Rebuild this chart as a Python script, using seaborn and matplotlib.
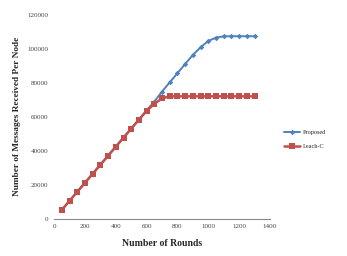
import matplotlib
matplotlib.use("Agg")
import matplotlib.pyplot as plt
import seaborn as sns
import pandas as pd

rounds = list(range(50, 1301, 50))
proposed = [5300, 10600, 15900, 21200, 26500, 31800, 37100, 42400, 47700, 53000,
            58300, 63800, 68900, 74800, 80200, 85600, 91000, 96300, 100800, 104500,
            106500, 107200, 107300, 107300, 107300, 107300]
leach_c = [5300, 10600, 15900, 21200, 26500, 31800, 37100, 42400, 47700, 53000,
           58300, 63400, 67600, 70800, 72000, 72000, 72000, 72000, 72000, 72000,
           72000, 72000, 72000, 72000, 72000, 72000]
series_names = ["Proposed", "Leach-C"]
x_ticks = list(range(0, 1401, 200))
y_ticks = list(range(0, 120001, 20000))

df = pd.DataFrame({
    "round": rounds * 2,
    "messages": proposed + leach_c,
    "scheme": [series_names[0]] * len(rounds) + [series_names[1]] * len(rounds),
})

sns.set_style("white")
plt.rcParams["font.family"] = ["Liberation Serif", "DejaVu Serif"]

fig = plt.figure(figsize=(3.47, 2.56), dpi=100)
ax = fig.add_axes([0.156, 0.145, 0.622, 0.798])

palette = {"Proposed": "#4F81BD", "Leach-C": "#C0504D"}
# blue first, red drawn over it where they overlap
sns.lineplot(data=df[df.scheme == "Proposed"], x="round", y="messages", color=palette["Proposed"],
             marker="D", markersize=2.8, markeredgewidth=0, linewidth=1.4, ax=ax, label="Proposed")
sns.lineplot(data=df[df.scheme == "Leach-C"], x="round", y="messages", color=palette["Leach-C"],
             marker="s", markersize=4.5, markeredgewidth=0, linewidth=1.8, ax=ax, label="Leach-C")

ax.set_xlim(0, 1400)
ax.set_ylim(0, 120000)
ax.set_xticks(x_ticks)
ax.set_yticks(y_ticks)
ax.tick_params(axis="both", labelsize=5, length=2, width=0.6, color="#888888",
               labelcolor="#444444", pad=2, direction="out")
for s in ["top", "right", "left"]:
    ax.spines[s].set_visible(False)
ax.spines["bottom"].set_color("#888888")
ax.spines["bottom"].set_linewidth(0.8)

ax.set_xlabel("Number of Rounds", fontsize=7, fontweight="bold", labelpad=7)
ax.set_ylabel("Number of Messages Received Per Node", fontsize=6.7, fontweight="bold", labelpad=5)

ax.legend(loc="center left", bbox_to_anchor=(1.04, 0.39), frameon=False,
          fontsize=4.5, handlelength=2.6, handletextpad=0.3, labelspacing=1.4)

fig.savefig("out.png", dpi=100)
